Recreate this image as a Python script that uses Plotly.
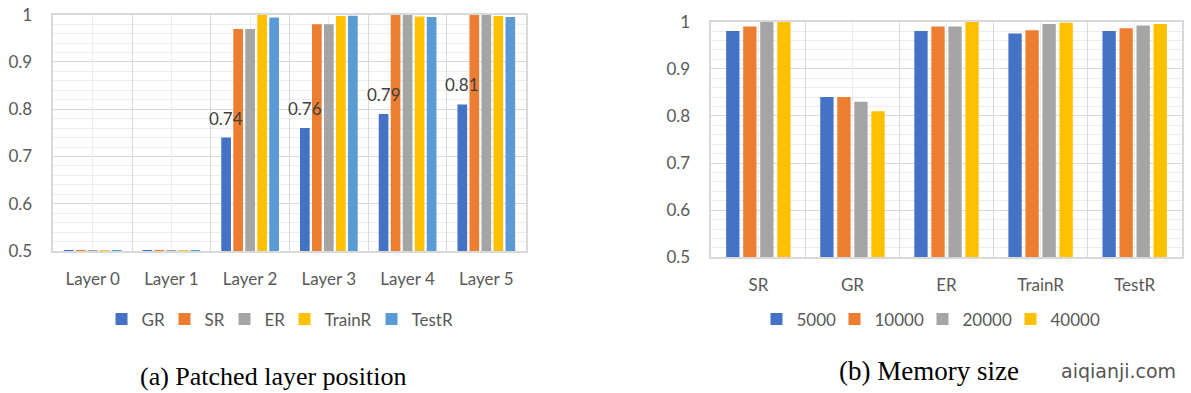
import plotly.graph_objects as go

# ---------------- data ----------------
layers = ["Layer 0", "Layer 1", "Layer 2", "Layer 3", "Layer 4", "Layer 5"]
gr_a = [0.502, 0.502, 0.74, 0.76, 0.79, 0.81]
sr_a = [0.502, 0.502, 0.97, 0.98, 1.0, 1.0]
er_a = [0.502, 0.502, 0.97, 0.98, 1.0, 1.0]
train_a = [0.502, 0.502, 1.0, 0.997, 0.996, 0.997]
test_a = [0.502, 0.502, 0.994, 0.998, 0.995, 0.995]
gr_labels = ["", "", "0.74", "0.76", "0.79", "0.81"]

mem_cats = ["SR", "GR", "ER", "TrainR", "TestR"]
mem_names = ["5000", "10000", "20000", "40000"]
m5000 = [0.98, 0.84, 0.98, 0.975, 0.98]
m10000 = [0.99, 0.84, 0.99, 0.982, 0.986]
m20000 = [1.0, 0.83, 0.99, 0.995, 0.992]
m40000 = [1.0, 0.81, 1.0, 0.998, 0.995]

# ---------------- style ----------------
C_BLUE, C_ORANGE, C_GREY, C_GOLD, C_LBLUE = "#4472C4", "#ED7D31", "#A5A5A5", "#FFC000", "#5B9BD5"
FONT = "Lato, 'Open Sans', sans-serif"
TXT = "#595959"
GRID = "#d9d9d9"
MINOR = "#ededed"

# bar geometry (fractions of a category)
A_W, A_SLOT, A_START = 0.123, 0.1525, -0.3666
B_W, B_SLOT, B_START = 0.1415, 0.181, -0.342

# compact legend entry widths (px)
LEG_W_A = [18, 15, 15, 42, 48]
LEG_W_B = [33, 43, 43, 54]

fig = go.Figure()

left_series = [
    ("GR", gr_a, C_BLUE),
    ("SR", sr_a, C_ORANGE),
    ("ER", er_a, C_GREY),
    ("TrainR", train_a, C_GOLD),
    ("TestR", test_a, C_LBLUE),
]
for k, (name, vals, col) in enumerate(left_series):
    fig.add_trace(go.Bar(
        x=layers, y=vals, name=name, marker=dict(color=col, line=dict(width=0)),
        width=A_W, offset=A_START + k * A_SLOT, xaxis="x", yaxis="y",
        legend="legend", legendwidth=LEG_W_A[k], hoverinfo="skip"))

right_series = [(mem_names[0], m5000, C_BLUE), (mem_names[1], m10000, C_ORANGE),
                (mem_names[2], m20000, C_GREY), (mem_names[3], m40000, C_GOLD)]
for k, (name, vals, col) in enumerate(right_series):
    fig.add_trace(go.Bar(
        x=mem_cats, y=vals, name=name, marker=dict(color=col, line=dict(width=0)),
        width=B_W, offset=B_START + k * B_SLOT, xaxis="x2", yaxis="y2",
        legend="legend2", legendwidth=LEG_W_B[k], hoverinfo="skip"))

# invisible helpers for the light category-centre grid lines
fig.add_trace(go.Scatter(x=[None], y=[None], xaxis="x3", yaxis="y", showlegend=False, hoverinfo="skip"))
fig.add_trace(go.Scatter(x=[None], y=[None], xaxis="x4", yaxis="y2", showlegend=False, hoverinfo="skip"))

W, H = 1191, 393
def xd(a, b):
    return [a / W, b / W]
def yd(top, bottom):
    return [1 - bottom / H, 1 - top / H]

xcat = dict(type="category", tickson="boundaries", showgrid=True, gridcolor=GRID, gridwidth=1,
            showline=True, linecolor=GRID, linewidth=1.5, mirror=True, ticks="",
            ticklabelstandoff=12, tickfont=dict(family=FONT, size=17, color=TXT), zeroline=False)
yval = dict(range=[0.5, 1.0], dtick=0.1, tick0=0.5, showgrid=True, gridcolor=GRID, gridwidth=1,
            minor=dict(dtick=0.02, showgrid=True, gridcolor=MINOR, gridwidth=1),
            showline=True, linecolor=GRID, linewidth=1.5, mirror=True, ticks="",
            ticklabelstandoff=16, tickfont=dict(family=FONT, size=17, color=TXT), zeroline=False)
xover = dict(showgrid=True, gridcolor=MINOR, gridwidth=1, showticklabels=False, ticks="",
             zeroline=False, showline=False, dtick=1, tick0=0)

# data labels on the GR bars, anchored in data coordinates
gr_center = A_START + A_W / 2
value_labels = [
    dict(x=i + gr_center, y=v, xref="x", yref="y", text=lab, showarrow=False,
         xanchor="center", yanchor="bottom", yshift=7,
         font=dict(family=FONT, size=17, color="#404040"))
    for i, (lab, v) in enumerate(zip(gr_labels, gr_a)) if lab
]

serif = "'Liberation Serif', 'Times New Roman', serif"
captions = [
    dict(text="(a) Patched layer position", x=273 / W, y=1 - 376 / H, xref="paper", yref="paper",
         showarrow=False, xanchor="center", yanchor="middle",
         font=dict(family=serif, size=26, color="black")),
    dict(text="(b) Memory size", x=929 / W, y=1 - 371 / H, xref="paper", yref="paper",
         showarrow=False, xanchor="center", yanchor="middle",
         font=dict(family=serif, size=27, color="black")),
    dict(text="aiqianji.com", x=1118 / W, y=1 - 371 / H, xref="paper", yref="paper",
         showarrow=False, xanchor="center", yanchor="middle",
         font=dict(family="'DejaVu Sans', sans-serif", size=19, color="#555555")),
]

fig.update_layout(
    width=W, height=H, autosize=False,
    margin=dict(l=0, r=0, t=0, b=0, autoexpand=False),
    paper_bgcolor="white", plot_bgcolor="white",
    barmode="overlay",
    showlegend=True,
    xaxis=dict(domain=xd(53.3, 525.7), anchor="y", range=[-0.5, 5.5], **xcat),
    yaxis=dict(domain=yd(14.7, 251), anchor="x", **yval),
    xaxis2=dict(domain=xd(711.3, 1181.7), anchor="y2", range=[-0.5, 4.5], **xcat),
    yaxis2=dict(domain=yd(21.7, 257.3), anchor="x2", **yval),
    xaxis3=dict(overlaying="x", anchor="y", range=[-0.5, 5.5], **xover),
    xaxis4=dict(overlaying="x2", anchor="y2", range=[-0.5, 4.5], **xover),
    legend=dict(orientation="h", x=283 / W, y=1 - 319.5 / H, xanchor="center", yanchor="middle",
                font=dict(family=FONT, size=17, color=TXT), bgcolor="rgba(0,0,0,0)",
                itemwidth=30, traceorder="normal"),
    legend2=dict(orientation="h", x=933 / W, y=1 - 319.5 / H, xanchor="center", yanchor="middle",
                 font=dict(family=FONT, size=17, color=TXT), bgcolor="rgba(0,0,0,0)",
                 itemwidth=30, traceorder="normal"),
    annotations=value_labels + captions,
)

fig.write_html("out.html", config={"displayModeBar": False},
               post_script="document.body.style.margin='0';")
